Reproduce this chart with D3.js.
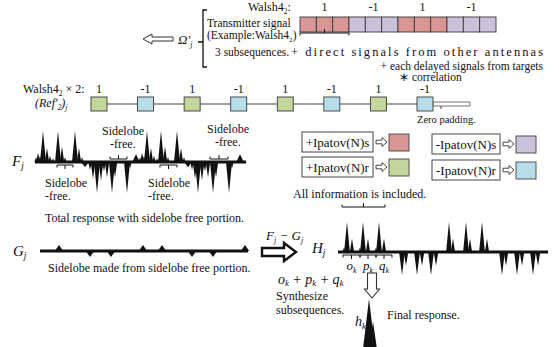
<!DOCTYPE html>
<html><head><meta charset="utf-8">
<script src="https://cdn.jsdelivr.net/npm/d3@7"></script>
<style>
html,body{margin:0;padding:0;background:#fff;}
svg{display:block;font-family:"Liberation Serif","Times New Roman",serif;}
</style></head><body>
<svg id="chart" width="559" height="347"></svg>
<script>
// ---- sequences ----
const walshCode = [1, -1, 1, -1];             // Walsh4_2 chips
const subsequencesPerChip = 3;
const walshTwice = [1, -1, 1, -1, 1, -1, 1, -1]; // Walsh4_2 x 2 reference chips
const legendLabels = ["+Ipatov(N)s", "+Ipatov(N)r", "-Ipatov(N)s", "-Ipatov(N)r"];
const legendColors = ["#d99694", "#c3d69b", "#ccc1da", "#b7dee8"];
const transmitColors = {"1": "#d99694", "-1": "#ccc1da"};
const referenceColors = {"1": "#c3d69b", "-1": "#b7dee8"};

// ---- correlation traces: [range bin, normalised amplitude] ----
const fMainLobes = [
  [1, 0.15], [3, 0.3], [5, 0.2], [8, 1.0], [12, 0.45], [15, 0.2], [18, 0.12],
  [23, 1.0], [27, 0.5], [30, 0.15], [40, 1.0], [44, 0.45], [47, 0.15],
  [55, -0.25], [58, -0.55], [62, -1.0], [66, -0.6], [69, -0.3], [72, -0.5],
  [77, -1.0], [80, -0.5], [92, -1.0], [95, -0.2],
  [105, 0.15], [107, 0.3], [109, 0.2], [112, 1.0], [116, 0.45], [119, 0.2], [122, 0.12],
  [126, 1.0], [130, 0.5], [133, 0.15], [142, 1.0], [146, 0.45], [149, 0.15],
  [157, -0.25], [160, -0.55], [163, -1.0], [167, -0.6], [170, -0.3], [173, -0.5],
  [178, -1.0], [181, -0.5], [194, -1.0], [197, -0.2]
];
const fSidelobes = [[50, -0.17], [101, 0.25], [153, -0.17], [205, 0.25]];
const fSpan = [0, 211];
const fFreeBelow = [[22, 38], [125, 142]];
const fFreeAbove = [[75, 92], [175, 193]];

const gSidelobes = [[19, 1], [50, -1], [71, -1], [103, 1], [122, 1], [152, -1], [173, -1], [205, 1]];
const gSpan = [0, 208];

const hLobes = [
  [6, 0.15], [9, 1.0], [14, 0.45], [22, 0.15], [25, 1.0], [30, 0.45], [38, 0.15], [41, 1.0], [46, 0.45],
  [64, -1.0], [68, -0.6], [79, -1.0], [84, -0.6], [93, -1.0], [98, -0.6],
  [111, 1.0], [115, 0.45], [128, 1.0], [132, 0.45], [144, 1.0], [149, 0.45],
  [164, -1.0], [168, -0.6], [179, -1.0], [184, -0.6], [195, -1.0], [200, -0.6]
];
const hSpan = [0, 210];
const hSubsequenceBounds = [5, 22, 38, 54];
const hSubsequenceNames = ["o", "p", "q"];
const hInfoSpan = [4, 47];

const finalLobes = [[8, 0.2], [11, 1.0], [15, 0.55]];

// ---- drawing ----
const svg = d3.select("#chart");
const INK = "#111";

function label(x, y, parts, o = {}) {
  const size = o.size || 12;
  const t = svg.append("text").attr("x", x).attr("y", y)
    .attr("font-size", size).attr("fill", INK);
  if (o.italic) t.attr("font-style", "italic");
  if (o.anchor) t.attr("text-anchor", o.anchor);
  if (o.length) t.attr("textLength", o.length).attr("lengthAdjust", "spacing");
  let shift = 0;
  parts.forEach(p => {
    const seg = typeof p === "string" ? {t: p, s: 0} : p;
    const span = t.append("tspan").attr("dy", seg.s - shift).text(seg.t);
    if (seg.s) span.attr("font-size", size * 0.62);
    shift = seg.s;
  });
  return t;
}
const sub = t => ({t, s: 3});

function spike(x, y0, y1, hw) {
  return `M${x - hw},${y0}L${x},${y1}L${x + hw},${y0}Z`;
}

function trace(spikes, xs, ys, hw) {
  svg.append("g").selectAll("path").data(spikes).join("path")
    .attr("d", d => spike(xs(d[0]), ys(0), ys(d[1]), hw(d[1])))
    .attr("fill", INK);
}
function baseline(span, xs, ys, w) {
  svg.append("line").attr("x1", xs(span[0])).attr("x2", xs(span[1]))
    .attr("y1", ys(0)).attr("y2", ys(0)).attr("stroke", INK).attr("stroke-width", w);
}
function bracket(x0, x1, y, dir, tick) {
  const xm = (x0 + x1) / 2;
  svg.append("path")
    .attr("d", `M${x0},${y - dir * 2.5}L${x0},${y}L${x1},${y}L${x1},${y - dir * 2.5}M${xm},${y}L${xm},${y + dir * tick}`)
    .attr("fill", "none").attr("stroke", INK).attr("stroke-width", 1);
}

// ---- transmitter signal ----
const txChips = walshCode.flatMap(c => d3.range(subsequencesPerChip).map(() => c));
const xTx = d3.scaleBand().domain(d3.range(txChips.length)).range([300, 496]).paddingInner(0);
svg.append("g").selectAll("rect").data(txChips).join("rect")
  .attr("x", (d, i) => xTx(i)).attr("y", 17).attr("width", xTx.bandwidth()).attr("height", 15)
  .attr("fill", d => transmitColors[d]).attr("stroke", "#3a3a3a").attr("stroke-width", 0.9);
walshCode.forEach((c, i) => {
  const xc = (xTx(i * subsequencesPerChip) + xTx(i * subsequencesPerChip + subsequencesPerChip - 1) + xTx.bandwidth()) / 2;
  label(xc, 11, [String(c)], {anchor: "middle"});
});
label(248, 11, ["Walsh4", sub("2"), ":"]);
label(207, 27, ["Transmitter signal"], {size: 11.5});
label(207, 39, ["(Example:Walsh4", sub("2"), ")"], {size: 11.5});
bracket(xTx(0), xTx(subsequencesPerChip - 1) + xTx.bandwidth(), 33, -1, 4);
label(215, 56, ["3 subsequences."], {size: 11.5});
label(291, 56, ["+ direct signals from other antennas"], {size: 12.5, length: 252});
label(543, 70, ["+  each delayed signals from targets"], {anchor: "end", size: 11.5});
label(399, 81, ["\u2217 correlation"], {size: 11.5});

// brace and arrow for Omega'_j
svg.append("path").attr("d", "M207,10L203,10L203,67L207,67M203,42L198,42")
  .attr("fill", "none").attr("stroke", INK).attr("stroke-width", 1.3);
label(178, 44, ["\u03A9\u2032", sub("j")], {italic: true, size: 13});
svg.append("path").attr("d", "M173,37L152,37L152,34L143,39L152,44L152,41L173,41Z")
  .attr("fill", "#fff").attr("stroke", "#333").attr("stroke-width", 1);

// ---- reference signal ----
const xRef = d3.scalePoint().domain(d3.range(walshTwice.length)).range([99, 425]);
const refY = 104, box = 16;
svg.append("line").attr("x1", xRef(0)).attr("x2", xRef(walshTwice.length - 1))
  .attr("y1", refY).attr("y2", refY).attr("stroke", "#7f7f7f").attr("stroke-width", 1.6);
svg.append("rect").attr("x", xRef(walshTwice.length - 1) + box / 2).attr("y", refY - 2)
  .attr("width", 37).attr("height", 4).attr("fill", "#fff").attr("stroke", "#666").attr("stroke-width", 0.9);
svg.append("line").attr("x1", xRef(walshTwice.length - 1) + box / 2 + 8).attr("x2", xRef(walshTwice.length - 1) + box / 2 + 8)
  .attr("y1", refY + 2).attr("y2", refY + 5).attr("stroke", "#444");
svg.append("g").selectAll("rect").data(walshTwice).join("rect")
  .attr("x", (d, i) => xRef(i) - box / 2).attr("y", refY - 7).attr("width", box).attr("height", 14)
  .attr("fill", d => referenceColors[d]).attr("stroke", "#3a3a3a").attr("stroke-width", 0.9);
walshTwice.forEach((c, i) => label(xRef(i), 93, [String(c)], {anchor: "middle"}));
label(23, 93, ["Walsh4", sub("2"), " \u00D7 2:"]);
label(35, 107, ["(Ref\u2032", sub("2"), ")", sub("j")], {italic: true});
label(417, 123, ["Zero padding."], {size: 10.5});

// ---- legend ----
const legendPos = [[302, 132, 71], [302, 157, 71], [432, 134, 68], [432, 160, 68]];
legendLabels.forEach((name, i) => {
  const [lx, ly, lw] = legendPos[i];
  svg.append("rect").attr("x", lx).attr("y", ly).attr("width", lw).attr("height", 20)
    .attr("fill", "#fff").attr("stroke", "#444").attr("stroke-width", 1);
  label(lx + lw / 2, ly + 14.5, [name], {anchor: "middle", size: 13});
  const a = lx + lw + 3, b = a + 11, cy = ly + 10;
  svg.append("path")
    .attr("d", `M${a},${cy - 1.8}L${b - 5},${cy - 1.8}L${b - 5},${cy - 4.5}L${b},${cy}L${b - 5},${cy + 4.5}L${b - 5},${cy + 1.8}L${a},${cy + 1.8}Z`)
    .attr("fill", "#fff").attr("stroke", "#333").attr("stroke-width", 0.9);
  svg.append("rect").attr("x", b + 2).attr("y", ly + 2).attr("width", 20).attr("height", 17)
    .attr("fill", legendColors[i]).attr("stroke", "#444").attr("stroke-width", 0.9);
});

// ---- F_j total response ----
const xF = d3.scaleLinear().domain(fSpan).range([35, 246]);
const yF = d3.scaleLinear().domain([-1, 1]).range([193, 131]);
baseline(fSpan, xF, yF, 2.8);
trace(fMainLobes, xF, yF, a => 1.4 + 1.6 * Math.abs(a));
trace(fSidelobes, xF, yF, () => 3.8);
fFreeBelow.forEach(([a, b]) => bracket(xF(a), xF(b), 165, -1, -4));
fFreeAbove.forEach(([a, b]) => bracket(xF(a), xF(b), 159, 1, -4));
label(12, 166, ["F", sub("j")], {italic: true, size: 15});
[[102, 135], [207, 133]].forEach(([x, y]) => { label(x, y, ["Sidelobe"]); label(x + 8, y + 13, ["-free."]); });
[[45, 187], [148, 187]].forEach(([x, y]) => { label(x, y, ["Sidelobe"]); label(x, y + 13, ["-free."]); });
label(45, 222, ["Total response with sidelobe free portion."]);

// ---- G_j sidelobe ----
const xG = d3.scaleLinear().domain(gSpan).range([40, 248]);
const yG = d3.scaleLinear().domain([-1, 1]).range([257, 245]);
baseline(gSpan, xG, yG, 2.8);
trace(gSidelobes, xG, yG, () => 4.2);
label(13, 256, ["G", sub("j")], {italic: true, size: 15});
label(48, 272, ["Sidelobe made from sidelobe free portion."]);

// ---- F_j - G_j arrow ----
svg.append("path").attr("d", "M262,248L284,248L284,243L296,252L284,261L284,256L262,256Z")
  .attr("fill", "#fff").attr("stroke", INK).attr("stroke-width", 2.4).attr("stroke-linejoin", "miter");
label(266, 240, ["F", sub("j"), " \u2212 G", sub("j")], {italic: true, size: 13});

// ---- H_j ----
const xH = d3.scaleLinear().domain(hSpan).range([338, 548]);
const hUp = d3.scaleLinear().domain([0, 1]).range([252, 222]);
const hDown = d3.scaleLinear().domain([-1, 0]).range([275, 252]);
const yH = v => v >= 0 ? hUp(v) : hDown(v);
baseline(hSpan, xH, yH, 2.8);
trace(hLobes, xH, yH, a => 1.4 + 1.5 * Math.abs(a));
label(312, 253, ["H", sub("j")], {italic: true, size: 15});
d3.pairs(hSubsequenceBounds).forEach(([a, b], i) => {
  bracket(xH(a), xH(b), 255, -1, -4);
  label((xH(a) + xH(b)) / 2, 270, [hSubsequenceNames[i], sub("k")], {italic: true, size: 13, anchor: "middle"});
});
bracket(xH(hInfoSpan[0]), xH(hInfoSpan[1]), 207, 1, -4);
label(293, 198, ["All information is included."]);
label(278, 284, ["o", {t: "k", s: 2}, " + p", {t: "k", s: 2}, " + q", {t: "k", s: 2}], {italic: true, size: 14});
label(276, 300, ["Synthesize"]);
label(276, 314, ["subsequences."]);
svg.append("path").attr("d", "M367.5,273L376.5,273L376.5,289L379.5,289L372,298L364.5,289L367.5,289Z")
  .attr("fill", "#fff").attr("stroke", "#333").attr("stroke-width", 1.1);

// ---- final response h_k ----
const xh = d3.scaleLinear().domain([0, 20]).range([358, 378]);
const yh = d3.scaleLinear().domain([0, 1]).range([349, 299]);
trace(finalLobes, xh, yh, a => 1.5 + 4.5 * a);
label(355, 326, ["h", sub("k")], {italic: true, size: 14});
label(387, 319, ["Final response."]);
</script>
</body></html>
